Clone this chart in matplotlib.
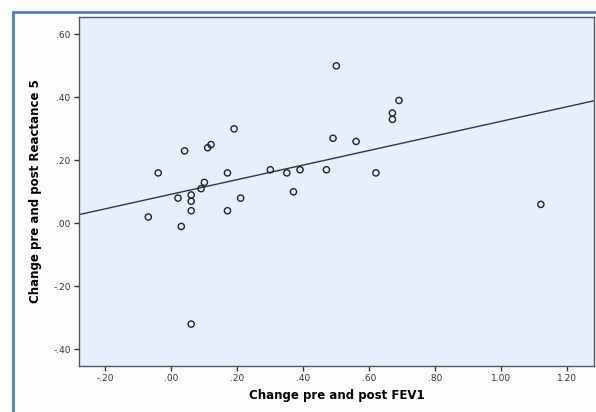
import numpy as np
import matplotlib.pyplot as plt
from matplotlib.patches import Rectangle

fev1 = [-0.04, 0.04, 0.11, 0.12, 0.19, 0.17, 0.10, 0.09, 0.06, 0.02, 0.06, 0.21,
        0.30, 0.35, 0.37, 0.39, 0.50, 0.69, 0.67, 0.67, 0.49, 0.56, 0.47, 0.62,
        1.12, -0.07, 0.03, 0.06, 0.17, 0.06]
reactance5 = [0.16, 0.23, 0.24, 0.25, 0.30, 0.16, 0.13, 0.11, 0.09, 0.08, 0.07, 0.08,
              0.17, 0.16, 0.10, 0.17, 0.50, 0.39, 0.35, 0.33, 0.27, 0.26, 0.17, 0.16,
              0.06, 0.02, -0.01, 0.04, 0.04, -0.32]

xticks = [-0.2, 0.0, 0.2, 0.4, 0.6, 0.8, 1.0, 1.2]
xtick_labels = ['-.20', '.00', '.20', '.40', '.60', '.80', '1.00', '1.20']
yticks = [-0.4, -0.2, 0.0, 0.2, 0.4, 0.6]
ytick_labels = ['-.40', '-.20', '.00', '.20', '.40', '.60']

fig = plt.figure(figsize=(5.96, 4.12), dpi=100)
fig.patch.set_facecolor('#fbfdff')
fig.patches.append(Rectangle((0.022, -0.02), 1.0, 0.991, transform=fig.transFigure,
                             fill=False, edgecolor='#4f7fc6', linewidth=2))

ax = fig.add_axes([0.1326, 0.1117, 0.8634, 0.847])
ax.set_facecolor('#e6f0fc')

x = np.array(fev1)
y = np.array(reactance5)
slope, intercept = np.polyfit(x, y, 1)
xl = np.array([-0.28, 1.28])
ax.plot(xl, intercept + slope * xl, color='#333333', linewidth=1)

ax.scatter(x, y, s=20, facecolors='none', edgecolors='#222222', linewidths=1, zorder=3)

ax.set_xlim(-0.28, 1.28)
ax.set_ylim(-0.453, 0.655)
ax.set_xticks(xticks)
ax.set_xticklabels(xtick_labels)
ax.set_yticks(yticks)
ax.set_yticklabels(ytick_labels)
ax.tick_params(direction='out', length=3.5, width=1, labelsize=6.5, colors='#333333', pad=2.5)
for s in ax.spines.values():
    s.set_color('#555555')
    s.set_linewidth(1)

ax.set_xlabel('Change pre and post FEV1', fontsize=8.5, fontweight='bold', labelpad=4)
ax.set_ylabel('Change pre and post Reactance 5', fontsize=8.5, fontweight='bold', labelpad=8)

plt.savefig('out.png', dpi=100, facecolor=fig.get_facecolor())
